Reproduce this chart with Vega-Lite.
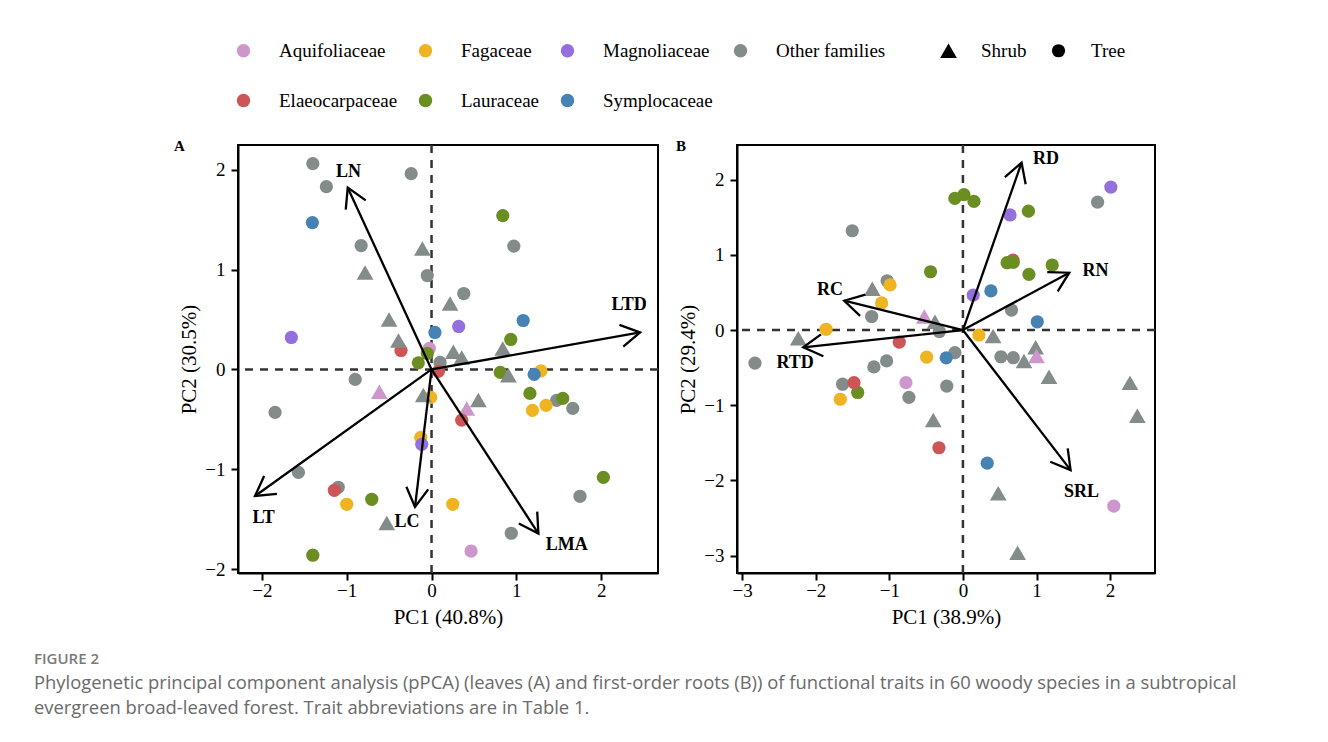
{
  "$schema": "https://vega.github.io/schema/vega-lite/v6.json",
  "padding": {"left": 34, "top": 41, "right": 10, "bottom": 10},
  "background": "white",
  "datasets": {
    "zero": [{"x": 0, "y": 0}],
    "ptsA": [
      {"fam": "Other families", "form": "Tree", "x": -1.40, "y": 2.06},
      {"fam": "Other families", "form": "Tree", "x": -1.24, "y": 1.83},
      {"fam": "Other families", "form": "Tree", "x": -0.24, "y": 1.96},
      {"fam": "Other families", "form": "Tree", "x": -0.83, "y": 1.24},
      {"fam": "Other families", "form": "Tree", "x": -0.05, "y": 0.94},
      {"fam": "Other families", "form": "Tree", "x": 0.97, "y": 1.235},
      {"fam": "Other families", "form": "Tree", "x": 0.38, "y": 0.76},
      {"fam": "Other families", "form": "Tree", "x": 0.10, "y": 0.07},
      {"fam": "Other families", "form": "Tree", "x": -0.90, "y": -0.10},
      {"fam": "Other families", "form": "Tree", "x": -1.845, "y": -0.43},
      {"fam": "Other families", "form": "Tree", "x": -1.57, "y": -1.03},
      {"fam": "Other families", "form": "Tree", "x": -1.10, "y": -1.18},
      {"fam": "Other families", "form": "Tree", "x": 1.475, "y": -0.31},
      {"fam": "Other families", "form": "Tree", "x": 1.665, "y": -0.39},
      {"fam": "Other families", "form": "Tree", "x": 1.75, "y": -1.27},
      {"fam": "Other families", "form": "Tree", "x": 0.94, "y": -1.64},
      {"fam": "Fagaceae", "form": "Tree", "x": -0.01, "y": -0.28},
      {"fam": "Fagaceae", "form": "Tree", "x": -0.127, "y": -0.68},
      {"fam": "Fagaceae", "form": "Tree", "x": -1.0, "y": -1.35},
      {"fam": "Fagaceae", "form": "Tree", "x": 0.25, "y": -1.35},
      {"fam": "Fagaceae", "form": "Tree", "x": 1.29, "y": -0.014},
      {"fam": "Fagaceae", "form": "Tree", "x": 1.19, "y": -0.41},
      {"fam": "Fagaceae", "form": "Tree", "x": 1.35, "y": -0.36},
      {"fam": "Symplocaceae", "form": "Tree", "x": -1.405, "y": 1.47},
      {"fam": "Symplocaceae", "form": "Tree", "x": 0.04, "y": 0.37},
      {"fam": "Symplocaceae", "form": "Tree", "x": 1.08, "y": 0.49},
      {"fam": "Symplocaceae", "form": "Tree", "x": 1.21, "y": -0.05},
      {"fam": "Magnoliaceae", "form": "Tree", "x": -1.653, "y": 0.32},
      {"fam": "Magnoliaceae", "form": "Tree", "x": 0.32, "y": 0.43},
      {"fam": "Magnoliaceae", "form": "Tree", "x": -0.116, "y": -0.75},
      {"fam": "Aquifoliaceae", "form": "Tree", "x": -0.026, "y": 0.21},
      {"fam": "Aquifoliaceae", "form": "Tree", "x": 0.466, "y": -1.818},
      {"fam": "Elaeocarpaceae", "form": "Tree", "x": -0.36, "y": 0.19},
      {"fam": "Elaeocarpaceae", "form": "Tree", "x": 0.08, "y": -0.02},
      {"fam": "Elaeocarpaceae", "form": "Tree", "x": -1.146, "y": -1.21},
      {"fam": "Lauraceae", "form": "Tree", "x": 0.84, "y": 1.54},
      {"fam": "Lauraceae", "form": "Tree", "x": 0.934, "y": 0.30},
      {"fam": "Lauraceae", "form": "Tree", "x": -0.05, "y": 0.16},
      {"fam": "Lauraceae", "form": "Tree", "x": -0.156, "y": 0.066},
      {"fam": "Lauraceae", "form": "Tree", "x": 0.81, "y": -0.03},
      {"fam": "Lauraceae", "form": "Tree", "x": 1.16, "y": -0.24},
      {"fam": "Lauraceae", "form": "Tree", "x": 1.547, "y": -0.29},
      {"fam": "Lauraceae", "form": "Tree", "x": 2.026, "y": -1.08},
      {"fam": "Lauraceae", "form": "Tree", "x": -0.705, "y": -1.30},
      {"fam": "Lauraceae", "form": "Tree", "x": -1.40, "y": -1.86},
      {"fam": "Other families", "form": "Shrub", "x": -0.108, "y": 1.21},
      {"fam": "Other families", "form": "Shrub", "x": -0.784, "y": 0.97},
      {"fam": "Other families", "form": "Shrub", "x": -0.501, "y": 0.50},
      {"fam": "Other families", "form": "Shrub", "x": -0.39, "y": 0.29},
      {"fam": "Other families", "form": "Shrub", "x": 0.218, "y": 0.66},
      {"fam": "Other families", "form": "Shrub", "x": 0.84, "y": 0.21},
      {"fam": "Other families", "form": "Shrub", "x": 0.257, "y": 0.176},
      {"fam": "Other families", "form": "Shrub", "x": 0.356, "y": 0.12},
      {"fam": "Other families", "form": "Shrub", "x": 0.906, "y": -0.057},
      {"fam": "Other families", "form": "Shrub", "x": -0.097, "y": -0.257},
      {"fam": "Other families", "form": "Shrub", "x": 0.552, "y": -0.307},
      {"fam": "Other families", "form": "Shrub", "x": -0.528, "y": -1.537},
      {"fam": "Aquifoliaceae", "form": "Shrub", "x": -0.615, "y": -0.224},
      {"fam": "Aquifoliaceae", "form": "Shrub", "x": 0.415, "y": -0.39},
      {"fam": "Elaeocarpaceae", "form": "Tree", "x": 0.356, "y": -0.508}
    ],
    "ptsB": [
      {"fam": "Elaeocarpaceae", "form": "Tree", "x": 0.68, "y": 0.93},
      {"fam": "Other families", "form": "Tree", "x": -1.504, "y": 1.32},
      {"fam": "Other families", "form": "Tree", "x": -1.03, "y": 0.655},
      {"fam": "Other families", "form": "Tree", "x": -1.24, "y": 0.18},
      {"fam": "Other families", "form": "Tree", "x": -0.32, "y": -0.02},
      {"fam": "Other families", "form": "Tree", "x": -2.826, "y": -0.44},
      {"fam": "Other families", "form": "Tree", "x": -1.21, "y": -0.49},
      {"fam": "Other families", "form": "Tree", "x": -1.037, "y": -0.41},
      {"fam": "Other families", "form": "Tree", "x": -0.109, "y": -0.30},
      {"fam": "Other families", "form": "Tree", "x": -1.635, "y": -0.72},
      {"fam": "Other families", "form": "Tree", "x": -0.734, "y": -0.895},
      {"fam": "Other families", "form": "Tree", "x": -0.22, "y": -0.745},
      {"fam": "Other families", "form": "Tree", "x": 0.66, "y": 0.266},
      {"fam": "Other families", "form": "Tree", "x": 0.516, "y": -0.355},
      {"fam": "Other families", "form": "Tree", "x": 0.684, "y": -0.368},
      {"fam": "Other families", "form": "Tree", "x": 1.83, "y": 1.70},
      {"fam": "Lauraceae", "form": "Tree", "x": -0.11, "y": 1.75},
      {"fam": "Lauraceae", "form": "Tree", "x": 0.014, "y": 1.80},
      {"fam": "Lauraceae", "form": "Tree", "x": 0.15, "y": 1.71},
      {"fam": "Lauraceae", "form": "Tree", "x": -0.44, "y": 0.775},
      {"fam": "Lauraceae", "form": "Tree", "x": 0.89, "y": 1.58},
      {"fam": "Lauraceae", "form": "Tree", "x": 0.60, "y": 0.895},
      {"fam": "Lauraceae", "form": "Tree", "x": 0.684, "y": 0.90},
      {"fam": "Lauraceae", "form": "Tree", "x": 0.897, "y": 0.74},
      {"fam": "Lauraceae", "form": "Tree", "x": 1.213, "y": 0.864},
      {"fam": "Lauraceae", "form": "Tree", "x": -1.43, "y": -0.83},
      {"fam": "Fagaceae", "form": "Tree", "x": -0.99, "y": 0.60},
      {"fam": "Fagaceae", "form": "Tree", "x": -1.105, "y": 0.36},
      {"fam": "Fagaceae", "form": "Tree", "x": -1.86, "y": 0.01},
      {"fam": "Fagaceae", "form": "Tree", "x": -0.493, "y": -0.36},
      {"fam": "Fagaceae", "form": "Tree", "x": -1.667, "y": -0.92},
      {"fam": "Fagaceae", "form": "Tree", "x": 0.217, "y": -0.066},
      {"fam": "Elaeocarpaceae", "form": "Tree", "x": -0.865, "y": -0.16},
      {"fam": "Elaeocarpaceae", "form": "Tree", "x": -1.48, "y": -0.70},
      {"fam": "Elaeocarpaceae", "form": "Tree", "x": -0.326, "y": -1.565},
      {"fam": "Symplocaceae", "form": "Tree", "x": -0.227, "y": -0.37},
      {"fam": "Symplocaceae", "form": "Tree", "x": 0.38, "y": 0.52},
      {"fam": "Symplocaceae", "form": "Tree", "x": 1.01, "y": 0.11},
      {"fam": "Symplocaceae", "form": "Tree", "x": 0.33, "y": -1.77},
      {"fam": "Magnoliaceae", "form": "Tree", "x": 0.14, "y": 0.465},
      {"fam": "Magnoliaceae", "form": "Tree", "x": 0.64, "y": 1.53},
      {"fam": "Magnoliaceae", "form": "Tree", "x": 2.01, "y": 1.90},
      {"fam": "Aquifoliaceae", "form": "Tree", "x": -0.774, "y": -0.70},
      {"fam": "Aquifoliaceae", "form": "Tree", "x": 2.05, "y": -2.34},
      {"fam": "Other families", "form": "Shrub", "x": -1.232, "y": 0.55},
      {"fam": "Other families", "form": "Shrub", "x": -0.38, "y": 0.11},
      {"fam": "Other families", "form": "Shrub", "x": -2.237, "y": -0.11},
      {"fam": "Other families", "form": "Shrub", "x": -0.403, "y": -1.197},
      {"fam": "Other families", "form": "Shrub", "x": 0.41, "y": -0.08},
      {"fam": "Other families", "form": "Shrub", "x": 0.988, "y": -0.23},
      {"fam": "Other families", "form": "Shrub", "x": 0.83, "y": -0.41},
      {"fam": "Other families", "form": "Shrub", "x": 1.17, "y": -0.62},
      {"fam": "Other families", "form": "Shrub", "x": 2.27, "y": -0.70},
      {"fam": "Other families", "form": "Shrub", "x": 2.37, "y": -1.14},
      {"fam": "Other families", "form": "Shrub", "x": 0.48, "y": -2.17},
      {"fam": "Other families", "form": "Shrub", "x": 0.743, "y": -2.96},
      {"fam": "Aquifoliaceae", "form": "Shrub", "x": -0.525, "y": 0.18},
      {"fam": "Aquifoliaceae", "form": "Shrub", "x": 1.0, "y": -0.346}
    ],
    "arrA": [
      {"trait": "LN", "x": -0.988, "y": 1.82},
      {"trait": "LTD", "x": 2.459, "y": 0.371},
      {"trait": "LT", "x": -2.081, "y": -1.267},
      {"trait": "LC", "x": -0.195, "y": -1.377},
      {"trait": "LMA", "x": 1.26, "y": -1.643}
    ],
    "labA": [
      {"trait": "LN", "x": -0.98, "y": 1.98},
      {"trait": "LTD", "x": 2.33, "y": 0.644},
      {"trait": "LT", "x": -1.98, "y": -1.49},
      {"trait": "LC", "x": -0.29, "y": -1.53},
      {"trait": "LMA", "x": 1.594, "y": -1.76}
    ],
    "arrB": [
      {"trait": "RD", "x": 0.797, "y": 2.225},
      {"trait": "RN", "x": 1.445, "y": 0.762},
      {"trait": "RC", "x": -1.613, "y": 0.39},
      {"trait": "RTD", "x": -2.17, "y": -0.23},
      {"trait": "SRL", "x": 1.463, "y": -1.862}
    ],
    "labB": [
      {"trait": "RD", "x": 1.128, "y": 2.27},
      {"trait": "RN", "x": 1.80, "y": 0.79},
      {"trait": "RC", "x": -1.807, "y": 0.53},
      {"trait": "RTD", "x": -2.28, "y": -0.44},
      {"trait": "SRL", "x": 1.61, "y": -2.15}
    ]
  },
  "title": {
    "text": "FIGURE 2",
    "subtitle": [
      "Phylogenetic principal component analysis (pPCA) (leaves (A) and first-order roots (B)) of functional traits in 60 woody species in a subtropical",
      "evergreen broad-leaved forest. Trait abbreviations are in Table 1."
    ],
    "orient": "bottom",
    "anchor": "start",
    "frame": "bounds",
    "dx": -139,
    "offset": 24,
    "font": "Open Sans",
    "fontSize": 15,
    "fontWeight": 600,
    "color": "#7a7a7a",
    "subtitleFont": "Open Sans",
    "subtitleFontSize": 18.4,
    "subtitleColor": "#6a6a6a",
    "subtitleLineHeight": 25,
    "subtitlePadding": 7
  },
  "spacing": 14,
  "resolve": {"scale": {"color": "shared", "shape": "shared", "size": "shared"}},
  "hconcat": [
    {
      "width": 420,
      "height": 428,
      "title": {"text": "A", "anchor": "start", "frame": "group", "dx": -64, "dy": 10, "baseline": "top", "offset": 0, "fontSize": 15, "fontWeight": "bold", "font": "Liberation Serif", "color": "#000"},
      "layer": [
        {
          "data": {"name": "zero"},
          "mark": {"type": "rule", "strokeDash": [8, 7], "strokeWidth": 2.5, "color": "#333"},
          "encoding": {
            "x": {"field": "x", "type": "quantitative", "scale": {"domain": [-2.282, 2.67], "nice": false, "zero": false}, "axis": {"values": [-2, -1, 0, 1, 2], "title": "PC1 (40.8%)"}}
          }
        },
        {
          "data": {"name": "zero"},
          "mark": {"type": "rule", "strokeDash": [8, 7], "strokeWidth": 2.5, "color": "#333"},
          "encoding": {
            "y": {"field": "y", "type": "quantitative", "scale": {"domain": [-2.038, 2.247], "nice": false, "zero": false}, "axis": {"values": [-2, -1, 0, 1, 2], "title": "PC2 (30.5%)"}}
          }
        },
        {
          "data": {"name": "ptsA"},
          "mark": {"type": "point", "filled": true, "opacity": 1, "strokeWidth": 0},
          "encoding": {
            "x": {"field": "x", "type": "quantitative", "scale": {"domain": [-2.282, 2.67], "nice": false, "zero": false}, "axis": {"values": [-2, -1, 0, 1, 2], "title": "PC1 (40.8%)"}},
            "y": {"field": "y", "type": "quantitative", "scale": {"domain": [-2.038, 2.247], "nice": false, "zero": false}, "axis": {"values": [-2, -1, 0, 1, 2], "title": "PC2 (30.5%)"}},
            "color": {"field": "fam", "type": "nominal", "scale": {"domain": ["Aquifoliaceae", "Fagaceae", "Magnoliaceae", "Other families", "Elaeocarpaceae", "Lauraceae", "Symplocaceae"], "range": ["#CD96CD", "#EEB422", "#9370DB", "#838B8B", "#CD5555", "#6B8E23", "#4682B4"]}, "legend": {"title": null, "legendX": -4, "legendY": -104, "columns": 4, "columnPadding": 18, "rowPadding": 30, "symbolType": "circle", "symbolSize": 180}},
            "shape": {"field": "form", "type": "nominal", "scale": {"domain": ["Shrub", "Tree"], "range": ["triangle-up", "circle"]}, "legend": {"title": null, "legendX": 701, "legendY": -104, "columnPadding": 22, "labelOffset": 23, "symbolFillColor": "#000", "symbolStrokeColor": "#000"}},
            "size": {"field": "form", "type": "nominal", "scale": {"domain": ["Shrub", "Tree"], "range": [280, 175]}, "legend": {"title": null, "legendX": 701, "legendY": -104, "columnPadding": 22, "labelOffset": 23, "symbolFillColor": "#000", "symbolStrokeColor": "#000"}}
          }
        },
        {
          "data": {"name": "arrA"},
          "mark": {"type": "rule", "color": "#000", "strokeWidth": 2.3},
          "encoding": {
            "x": {"field": "x", "type": "quantitative", "scale": {"domain": [-2.282, 2.67], "nice": false, "zero": false}, "axis": {"values": [-2, -1, 0, 1, 2], "title": "PC1 (40.8%)"}},
            "y": {"field": "y", "type": "quantitative", "scale": {"domain": [-2.038, 2.247], "nice": false, "zero": false}, "axis": {"values": [-2, -1, 0, 1, 2], "title": "PC2 (30.5%)"}},
            "x2": {"datum": 0},
            "y2": {"datum": 0}
          }
        },
        {
          "data": {"name": "arrA"},
          "transform": [{"calculate": "atan2(-datum.y * 99.77, datum.x * 84.85) * 180 / PI", "as": "ang"}],
          "mark": {"type": "point", "shape": "M-0.866,-0.5L0,0L-0.866,0.5", "filled": false, "opacity": 1, "stroke": "#000", "strokeWidth": 2.3, "size": 1936},
          "encoding": {
            "x": {"field": "x", "type": "quantitative", "scale": {"domain": [-2.282, 2.67], "nice": false, "zero": false}, "axis": {"values": [-2, -1, 0, 1, 2], "title": "PC1 (40.8%)"}},
            "y": {"field": "y", "type": "quantitative", "scale": {"domain": [-2.038, 2.247], "nice": false, "zero": false}, "axis": {"values": [-2, -1, 0, 1, 2], "title": "PC2 (30.5%)"}},
            "angle": {"field": "ang", "type": "quantitative", "scale": null}
          }
        },
        {
          "data": {"name": "labA"},
          "mark": {"type": "text", "font": "Liberation Serif", "fontWeight": "bold", "fontSize": 18, "color": "#000"},
          "encoding": {
            "x": {"field": "x", "type": "quantitative", "scale": {"domain": [-2.282, 2.67], "nice": false, "zero": false}, "axis": {"values": [-2, -1, 0, 1, 2], "title": "PC1 (40.8%)"}},
            "y": {"field": "y", "type": "quantitative", "scale": {"domain": [-2.038, 2.247], "nice": false, "zero": false}, "axis": {"values": [-2, -1, 0, 1, 2], "title": "PC2 (30.5%)"}},
            "text": {"field": "trait"}
          }
        }
      ]
    },
    {
      "width": 418,
      "height": 428,
      "title": {"text": "B", "anchor": "start", "frame": "group", "dx": -61, "dy": 10, "baseline": "top", "offset": 0, "fontSize": 15, "fontWeight": "bold", "font": "Liberation Serif", "color": "#000"},
      "layer": [
        {
          "data": {"name": "zero"},
          "mark": {"type": "rule", "strokeDash": [8, 7], "strokeWidth": 2.5, "color": "#333"},
          "encoding": {
            "x": {"field": "x", "type": "quantitative", "scale": {"domain": [-3.07, 2.61], "nice": false, "zero": false}, "axis": {"values": [-3, -2, -1, 0, 1, 2], "title": "PC1 (38.9%)"}}
          }
        },
        {
          "data": {"name": "zero"},
          "mark": {"type": "rule", "strokeDash": [8, 7], "strokeWidth": 2.5, "color": "#333"},
          "encoding": {
            "y": {"field": "y", "type": "quantitative", "scale": {"domain": [-3.23, 2.46], "nice": false, "zero": false}, "axis": {"values": [-3, -2, -1, 0, 1, 2], "title": "PC2 (29.4%)"}}
          }
        },
        {
          "data": {"name": "ptsB"},
          "mark": {"type": "point", "filled": true, "opacity": 1, "strokeWidth": 0},
          "encoding": {
            "x": {"field": "x", "type": "quantitative", "scale": {"domain": [-3.07, 2.61], "nice": false, "zero": false}, "axis": {"values": [-3, -2, -1, 0, 1, 2], "title": "PC1 (38.9%)"}},
            "y": {"field": "y", "type": "quantitative", "scale": {"domain": [-3.23, 2.46], "nice": false, "zero": false}, "axis": {"values": [-3, -2, -1, 0, 1, 2], "title": "PC2 (29.4%)"}},
            "color": {"field": "fam", "type": "nominal", "scale": {"domain": ["Aquifoliaceae", "Fagaceae", "Magnoliaceae", "Other families", "Elaeocarpaceae", "Lauraceae", "Symplocaceae"], "range": ["#CD96CD", "#EEB422", "#9370DB", "#838B8B", "#CD5555", "#6B8E23", "#4682B4"]}, "legend": {"title": null, "legendX": -4, "legendY": -104, "columns": 4, "columnPadding": 18, "rowPadding": 30, "symbolType": "circle", "symbolSize": 180}},
            "shape": {"field": "form", "type": "nominal", "scale": {"domain": ["Shrub", "Tree"], "range": ["triangle-up", "circle"]}, "legend": {"title": null, "legendX": 701, "legendY": -104, "columnPadding": 22, "labelOffset": 23, "symbolFillColor": "#000", "symbolStrokeColor": "#000"}},
            "size": {"field": "form", "type": "nominal", "scale": {"domain": ["Shrub", "Tree"], "range": [280, 175]}, "legend": {"title": null, "legendX": 701, "legendY": -104, "columnPadding": 22, "labelOffset": 23, "symbolFillColor": "#000", "symbolStrokeColor": "#000"}}
          }
        },
        {
          "data": {"name": "arrB"},
          "mark": {"type": "rule", "color": "#000", "strokeWidth": 2.3},
          "encoding": {
            "x": {"field": "x", "type": "quantitative", "scale": {"domain": [-3.07, 2.61], "nice": false, "zero": false}, "axis": {"values": [-3, -2, -1, 0, 1, 2], "title": "PC1 (38.9%)"}},
            "y": {"field": "y", "type": "quantitative", "scale": {"domain": [-3.23, 2.46], "nice": false, "zero": false}, "axis": {"values": [-3, -2, -1, 0, 1, 2], "title": "PC2 (29.4%)"}},
            "x2": {"datum": 0},
            "y2": {"datum": 0}
          }
        },
        {
          "data": {"name": "arrB"},
          "transform": [{"calculate": "atan2(-datum.y * 75.2, datum.x * 73.6) * 180 / PI", "as": "ang"}],
          "mark": {"type": "point", "shape": "M-0.866,-0.5L0,0L-0.866,0.5", "filled": false, "opacity": 1, "stroke": "#000", "strokeWidth": 2.3, "size": 1936},
          "encoding": {
            "x": {"field": "x", "type": "quantitative", "scale": {"domain": [-3.07, 2.61], "nice": false, "zero": false}, "axis": {"values": [-3, -2, -1, 0, 1, 2], "title": "PC1 (38.9%)"}},
            "y": {"field": "y", "type": "quantitative", "scale": {"domain": [-3.23, 2.46], "nice": false, "zero": false}, "axis": {"values": [-3, -2, -1, 0, 1, 2], "title": "PC2 (29.4%)"}},
            "angle": {"field": "ang", "type": "quantitative", "scale": null}
          }
        },
        {
          "data": {"name": "labB"},
          "mark": {"type": "text", "font": "Liberation Serif", "fontWeight": "bold", "fontSize": 18, "color": "#000"},
          "encoding": {
            "x": {"field": "x", "type": "quantitative", "scale": {"domain": [-3.07, 2.61], "nice": false, "zero": false}, "axis": {"values": [-3, -2, -1, 0, 1, 2], "title": "PC1 (38.9%)"}},
            "y": {"field": "y", "type": "quantitative", "scale": {"domain": [-3.23, 2.46], "nice": false, "zero": false}, "axis": {"values": [-3, -2, -1, 0, 1, 2], "title": "PC2 (29.4%)"}},
            "text": {"field": "trait"}
          }
        }
      ]
    }
  ],
  "config": {
    "font": "Liberation Serif",
    "view": {"stroke": "#000", "strokeWidth": 2},
    "axis": {
      "grid": false,
      "domainColor": "#000",
      "domainWidth": 2,
      "tickColor": "#000",
      "tickWidth": 2,
      "tickSize": 7,
      "labelFont": "Liberation Serif",
      "labelFontSize": 19,
      "labelColor": "#000",
      "labelPadding": 3,
      "titleFont": "Liberation Serif",
      "titleFontSize": 21,
      "titleFontWeight": "normal",
      "titleColor": "#000"
    },
    "axisY": {"titlePadding": 5, "labelPadding": 6},
    "axisX": {"titlePadding": 6, "labelPadding": 1},
    "legend": {
      "orient": "none",
      "direction": "horizontal",
      "labelFont": "Liberation Serif",
      "labelFontSize": 19,
      "labelColor": "#000",
      "labelOffset": 26,
      "symbolStrokeWidth": 0,
      "symbolOpacity": 1,
      "symbolBaseFillColor": "#000",
      "symbolBaseStrokeColor": "#000"
    }
  }
}
